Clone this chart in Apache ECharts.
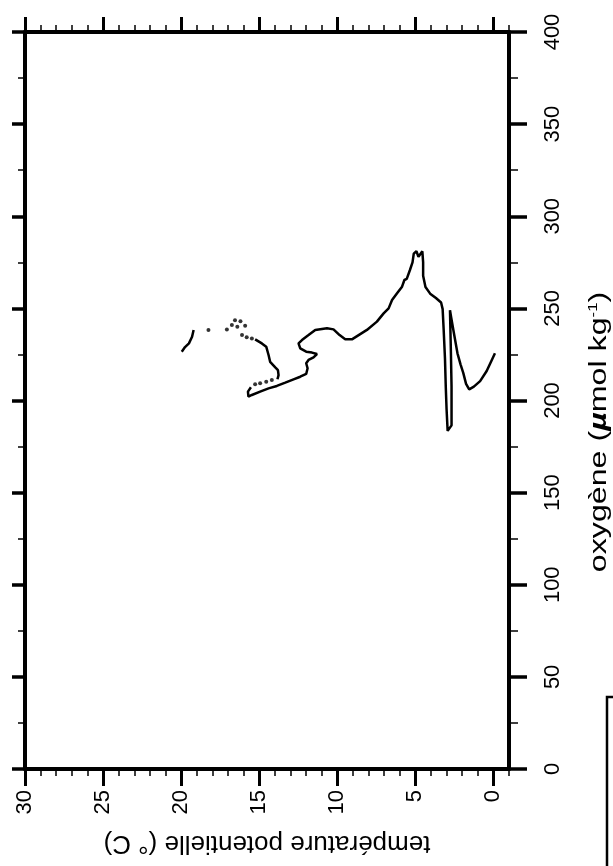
<!DOCTYPE html>
<html><head><meta charset="utf-8">
<script src="https://cdn.jsdelivr.net/npm/echarts@6/dist/echarts.min.js"></script>
<style>html,body{margin:0;padding:0;background:#fff}#c{width:613px;height:866px}</style>
</head><body><div id="c"></div>
<script>
// tick labels
const tempTicks = [0, 5, 10, 15, 20, 25, 30];
const oxyTicks = [0, 50, 100, 150, 200, 250, 300, 350, 400];
const xTitle = 'température potentielle (° C)';
const yTitle = '{a|oxygène (}{mu|µ}{a|mol kg}{sup|-1}{a|)}';

// solid piece near 20 °C
const segA_temp = [19.96, 19.75, 19.5, 19.3, 19.2];
const segA_oxy  = [226.5, 229, 231, 234.6, 238.3];
// dotted points
const dots_temp = [18.25, 17.07, 16.75, 16.55, 16.4, 16.2, 15.9, 16.1, 15.8, 15.47, 14.19, 14.55, 14.94, 15.26];
const dots_oxy  = [238.3, 238.6, 241, 243.6, 240, 243, 240.6, 235.5, 234.3, 233.7, 211.1, 210.2, 209.3, 208.8];
// solid piece 15 -> 13.8 °C
const segB_temp = [15.26, 14.83, 14.55, 14.4, 14.3, 13.97, 13.8, 13.76, 13.83];
const segB_oxy  = [233.2, 231, 229.2, 224.7, 221, 218, 216.5, 213.8, 211.5];
// main solid trace
const segC_temp = [15.53, 15.72, 15.69, 15.47, 14.94, 14.4, 13.87, 13.33, 12.8, 12.37, 11.99, 11.9, 11.99, 11.84, 11.52, 11.3, 11.62, 11.99, 12.37, 12.48, 12.26, 11.84, 11.41, 10.66, 10.24, 9.85, 9.49, 9.06, 8.63, 8.1, 7.46, 7.03, 6.71, 6.49, 6.17, 5.85, 5.7, 5.55, 5.35, 5.18, 5.1, 4.93, 4.8, 4.68, 4.55, 4.5, 4.5, 4.35, 4.05, 3.68, 3.35, 3.25, 3.18, 3.1, 3.05, 3.0, 2.93, 2.68, 2.68, 2.72, 2.78, 2.7, 2.55, 2.3, 2.1, 1.93, 1.75, 1.55, 1.25, 0.85, 0.43, 0.1, -0.1];
const segC_oxy  = [207.2, 204.8, 202.1, 203, 204.8, 206.6, 207.9, 209.7, 211.5, 212.9, 214.4, 217.5, 220.2, 222, 223.4, 225.2, 226, 226.5, 228.3, 231, 232.8, 235.5, 238.3, 239.2, 238.6, 235.5, 233.2, 233.2, 235.5, 238.3, 242.8, 247.3, 250, 254.5, 258.2, 261.8, 265.4, 266, 270.7, 275, 279.7, 281, 278, 279, 281, 275, 267.7, 261.6, 258, 255.6, 253.2, 249.6, 237.6, 222.6, 207.5, 195.5, 183.5, 186.5, 207.5, 225.6, 249, 245, 237.6, 225.6, 219.5, 215, 209, 206, 207.5, 210.5, 216, 222, 225.6];

const zip = (a, b) => a.map((v, i) => [v, b[i]]);
const font = 'Liberation Sans, Arial, sans-serif';
const black = '#000';

const chart = echarts.init(document.getElementById('c'), null, {renderer: 'canvas'});
const baseX = {type: 'value', min: -1, max: 30, inverse: true, splitLine: {show: false}};
const baseY = {type: 'value', min: 0, max: 400, splitLine: {show: false}};

chart.setOption({
  animation: false,
  backgroundColor: '#fff',
  grid: {left: 25, right: 104, top: 32, bottom: 97, containLabel: false},
  xAxis: [
    Object.assign({}, baseX, {
      position: 'bottom', interval: 1,
      axisLine: {show: true, onZero: false, lineStyle: {color: black, width: 4}},
      axisTick: {show: true, inside: false, length: 7, lineStyle: {color: black, width: 1.5}},
      axisLabel: {customValues: tempTicks, rotate: 90, margin: 21, fontSize: 22, color: black, fontFamily: font},
      name: xTitle, nameLocation: 'middle', nameRotate: 180, nameGap: 61,
      nameTextStyle: {fontSize: 26, color: black, fontFamily: font}
    }),
    Object.assign({}, baseX, {
      position: 'bottom',
      axisLine: {show: false, onZero: false},
      axisTick: {show: true, customValues: tempTicks, length: 17, lineStyle: {color: black, width: 3}},
      axisLabel: {show: false}
    }),
    Object.assign({}, baseX, {
      position: 'top', interval: 1,
      axisLine: {show: true, onZero: false, lineStyle: {color: black, width: 4}},
      axisTick: {show: true, length: 7, lineStyle: {color: black, width: 1.5}},
      axisLabel: {show: false}
    }),
    Object.assign({}, baseX, {
      position: 'top',
      axisLine: {show: false, onZero: false},
      axisTick: {show: true, customValues: tempTicks, length: 15, lineStyle: {color: black, width: 3}},
      axisLabel: {show: false}
    })
  ],
  yAxis: [
    Object.assign({}, baseY, {
      position: 'right', interval: 25,
      axisLine: {show: true, onZero: false, lineStyle: {color: black, width: 4}},
      axisTick: {show: true, length: 9, lineStyle: {color: black, width: 1.5}},
      axisLabel: {customValues: oxyTicks, rotate: 90, margin: 33, fontSize: 22, color: black, fontFamily: font}
    }),
    Object.assign({}, baseY, {
      position: 'right',
      axisLine: {show: false, onZero: false},
      axisTick: {show: true, customValues: oxyTicks, length: 18, lineStyle: {color: black, width: 3.5}},
      axisLabel: {show: false}
    }),
    Object.assign({}, baseY, {
      position: 'left', interval: 25,
      axisLine: {show: true, onZero: false, lineStyle: {color: black, width: 4}},
      axisTick: {show: true, length: 7, lineStyle: {color: black, width: 1.5}},
      axisLabel: {show: false}
    }),
    Object.assign({}, baseY, {
      position: 'left',
      axisLine: {show: false, onZero: false},
      axisTick: {show: true, customValues: oxyTicks, length: 13, lineStyle: {color: black, width: 3.5}},
      axisLabel: {show: false}
    })
  ],
  series: [
    {type: 'line', data: zip(segA_temp, segA_oxy), showSymbol: false, lineStyle: {color: black, width: 2.5}, xAxisIndex: 0, yAxisIndex: 0},
    {type: 'scatter', data: zip(dots_temp, dots_oxy), symbolSize: 4, itemStyle: {color: black}, xAxisIndex: 0, yAxisIndex: 0},
    {type: 'line', data: zip(segB_temp, segB_oxy), showSymbol: false, lineStyle: {color: black, width: 2.5}, xAxisIndex: 0, yAxisIndex: 0},
    {type: 'line', data: zip(segC_temp, segC_oxy), showSymbol: false, lineStyle: {color: black, width: 2.5}, xAxisIndex: 0, yAxisIndex: 0}
  ],
  graphic: [
    {type: 'text', x: 600, y: 432, rotation: Math.PI / 2, scaleX: 1.4, style: {
      text: yTitle, align: 'center', verticalAlign: 'middle', rich: {
        a: {fontSize: 23, fill: black, fontFamily: font},
        mu: {fontSize: 23, fill: black, fontFamily: font, fontStyle: 'italic', fontWeight: 'bold'},
        sup: {fontSize: 12, fill: black, fontFamily: font, verticalAlign: 'top', padding: [0, 0, 12, 0]}
      }}},
    {type: 'polyline', shape: {points: [[607, 866], [607, 697], [615, 697]]}, style: {stroke: black, lineWidth: 2.5, fill: null}}
  ]
});
</script></body></html>
